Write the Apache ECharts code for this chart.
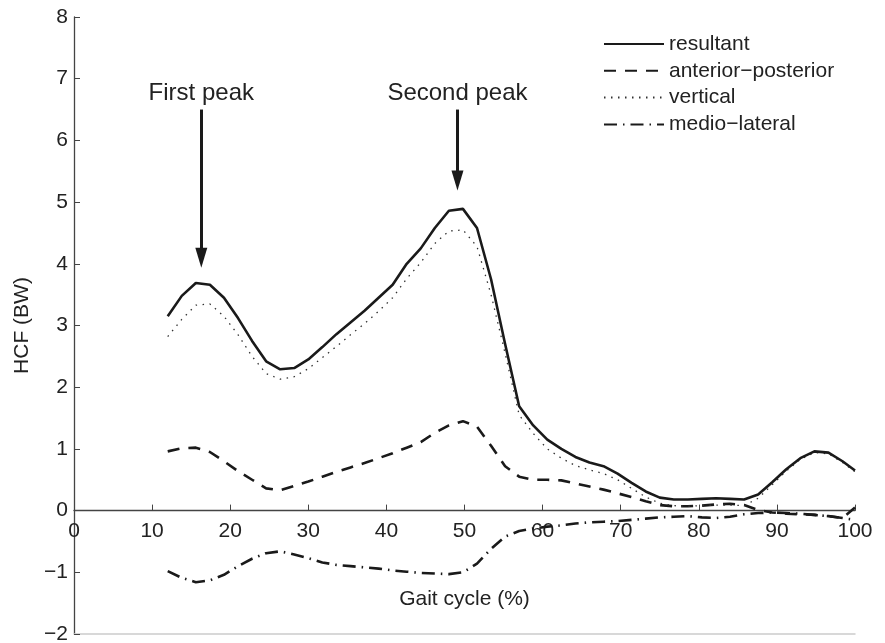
<!DOCTYPE html>
<html>
<head>
<meta charset="utf-8">
<script src="https://cdn.jsdelivr.net/npm/echarts@6/dist/echarts.min.js"></script>
<style>
  html, body { margin: 0; padding: 0; background: #fff; }
  #main { width: 885px; height: 643px; }
</style>
</head>
<body>
<div id="main"></div>
<script>
// gait cycle (%) sample positions
let gait = [12, 13.8, 15.6, 17.4, 19.2, 21, 22.8, 24.6, 26.4, 28.2, 30, 31.8, 33.6, 35.4, 37.2, 39, 40.8, 42.6, 44.4, 46.2,
    48, 49.8, 51.6, 53.4, 55.2, 57, 58.8, 60.6, 62.4, 64.2, 66, 67.8, 69.6, 71.4, 73.2, 75, 76.8, 78.6, 80.4, 82.2,
    84, 85.8, 87.6, 89.4, 91.2, 93, 94.8, 96.6, 98.4, 100];

let resultant = [3.15, 3.48, 3.69, 3.66, 3.45, 3.12, 2.75, 2.42, 2.29, 2.31, 2.45, 2.65, 2.86, 3.05, 3.24, 3.45, 3.66, 4.00, 4.25, 4.58,
    4.86, 4.89, 4.58, 3.75, 2.70, 1.69, 1.38, 1.15, 1.00, 0.87, 0.78, 0.72, 0.60, 0.45, 0.31, 0.21, 0.18, 0.18, 0.19, 0.20,
    0.19, 0.18, 0.26, 0.46, 0.67, 0.85, 0.96, 0.94, 0.80, 0.65];

let antPost = [0.96, 1.01, 1.02, 0.95, 0.80, 0.64, 0.50, 0.36, 0.33, 0.40, 0.47, 0.55, 0.63, 0.70, 0.77, 0.85, 0.93, 1.02, 1.11, 1.26,
    1.38, 1.45, 1.36, 1.05, 0.72, 0.55, 0.50, 0.50, 0.49, 0.44, 0.39, 0.34, 0.28, 0.22, 0.15, 0.09, 0.07, 0.07, 0.08, 0.10,
    0.11, 0.09, 0.01, -0.03, -0.05, -0.06, -0.07, -0.09, -0.12, 0.05];

let vertical = [2.82, 3.10, 3.33, 3.35, 3.15, 2.85, 2.50, 2.22, 2.13, 2.17, 2.30, 2.48, 2.66, 2.85, 3.03, 3.23, 3.45, 3.76, 4.02, 4.33,
    4.53, 4.55, 4.28, 3.50, 2.55, 1.55, 1.25, 1.00, 0.85, 0.73, 0.66, 0.60, 0.50, 0.36, 0.22, 0.12, 0.08, 0.07, 0.08, 0.09,
    0.09, 0.08, 0.20, 0.42, 0.64, 0.83, 0.94, 0.92, 0.78, 0.63];

let medLat = [-0.98, -1.09, -1.16, -1.13, -1.04, -0.90, -0.78, -0.69, -0.66, -0.71, -0.77, -0.84, -0.88, -0.90, -0.92, -0.94, -0.97, -0.99, -1.01, -1.02,
    -1.03, -1.00, -0.86, -0.62, -0.42, -0.33, -0.29, -0.26, -0.24, -0.21, -0.19, -0.18, -0.17, -0.15, -0.13, -0.11, -0.10, -0.09, -0.11, -0.12,
    -0.10, -0.06, -0.04, -0.03, -0.04, -0.05, -0.07, -0.09, -0.12, -0.15];

let names = ['resultant', 'anterior\u2212posterior', 'vertical', 'medio\u2212lateral'];

// arrow annotations: [x, top y, end y, text]
let peaks = [
    [16.3, 6.5, 4.10, 'First peak'],
    [49.1, 6.5, 5.35, 'Second peak']
];

let font = 'Liberation Sans, Arial, sans-serif';

function pairs(ys) {
    return gait.map(function (x, i) { return [x, ys[i]]; });
}

let chart = echarts.init(document.getElementById('main'));

// the x axis sits on y = 0: 2 units above the bottom of the 10-unit tall grid
let gridTop = 17, gridBottom = 9;
let zeroOffset = -(643 - gridTop - gridBottom) * 2 / 10;

let option = {
    animation: false,
    textStyle: { fontFamily: font, color: '#222' },
    grid: { left: 74, right: 30, top: gridTop, bottom: gridBottom, outerBoundsMode: 'none', containLabel: false },
    legend: {
        orient: 'vertical',
        left: 603,
        top: 33,
        padding: 0,
        itemWidth: 60,
        itemHeight: 14,
        itemGap: 4.8,
        itemStyle: { opacity: 0 },
        textStyle: { fontSize: 21, color: '#222', fontFamily: font, lineHeight: 22 },
        data: names
    },
    xAxis: [{
        type: 'value',
        min: 0, max: 100, interval: 10,
        position: 'bottom',
        offset: zeroOffset,
        name: 'Gait cycle (%)',
        nameLocation: 'middle',
        nameGap: 78,
        nameTextStyle: { fontSize: 21, color: '#222' },
        axisLine: { onZero: false, lineStyle: { color: '#444', width: 1.3 } },
        axisTick: { inside: true, length: 6, lineStyle: { color: '#444' } },
        axisLabel: { fontSize: 21, color: '#222', margin: 10 },
        splitLine: { show: false }
    }, {
        type: 'value',
        min: 0, max: 100,
        position: 'bottom',
        axisLine: { show: true, onZero: false, lineStyle: { color: '#ccc', width: 1.5 } },
        axisTick: { show: false },
        axisLabel: { show: false },
        splitLine: { show: false }
    }],
    yAxis: {
        type: 'value',
        min: -2, max: 8, interval: 1,
        name: 'HCF (BW)',
        nameLocation: 'middle',
        nameGap: 38,
        nameTextStyle: { fontSize: 21, color: '#222' },
        axisLine: { show: true, onZero: false, lineStyle: { color: '#444', width: 1.3 } },
        axisTick: { show: true, inside: true, length: 6, lineStyle: { color: '#444' } },
        axisLabel: {
            fontSize: 21, color: '#222', margin: 6,
            formatter: function (v) { return v < 0 ? '\u2212' + Math.abs(v) : v; }
        },
        splitLine: { show: false }
    },
    series: [
        {
            name: names[0],
            type: 'line',
            symbol: 'none',
            data: pairs(resultant),
            lineStyle: { color: '#1a1a1a', width: 2.6 },
            itemStyle: { color: '#1a1a1a' },
            z: 5,
            markLine: {
                silent: true,
                symbol: ['none', 'triangle'],
                symbolSize: [12, 20],
                lineStyle: { type: 'solid', color: '#1a1a1a', width: 3 },
                label: { show: true, position: 'start', distance: 4, fontSize: 24, color: '#222', fontFamily: font },
                data: peaks.map(function (p) {
                    return [
                        { coord: [p[0], p[1]], name: p[3], label: { formatter: p[3] } },
                        { coord: [p[0], p[2]] }
                    ];
                })
            }
        },
        {
            name: names[1],
            type: 'line',
            symbol: 'none',
            data: pairs(antPost),
            lineStyle: { color: '#1a1a1a', width: 2.6, type: [12, 9] },
            itemStyle: { color: '#1a1a1a' }
        },
        {
            name: names[2],
            type: 'line',
            symbol: 'none',
            data: pairs(vertical),
            lineStyle: { color: '#333', width: 1.3, type: [1.5, 5.5] },
            itemStyle: { color: '#333' }
        },
        {
            name: names[3],
            type: 'line',
            symbol: 'none',
            data: pairs(medLat),
            lineStyle: { color: '#1a1a1a', width: 2.6, type: [13, 6, 1.5, 6] },
            itemStyle: { color: '#1a1a1a' }
        }
    ]
};

chart.setOption(option);
</script>
</body>
</html>
